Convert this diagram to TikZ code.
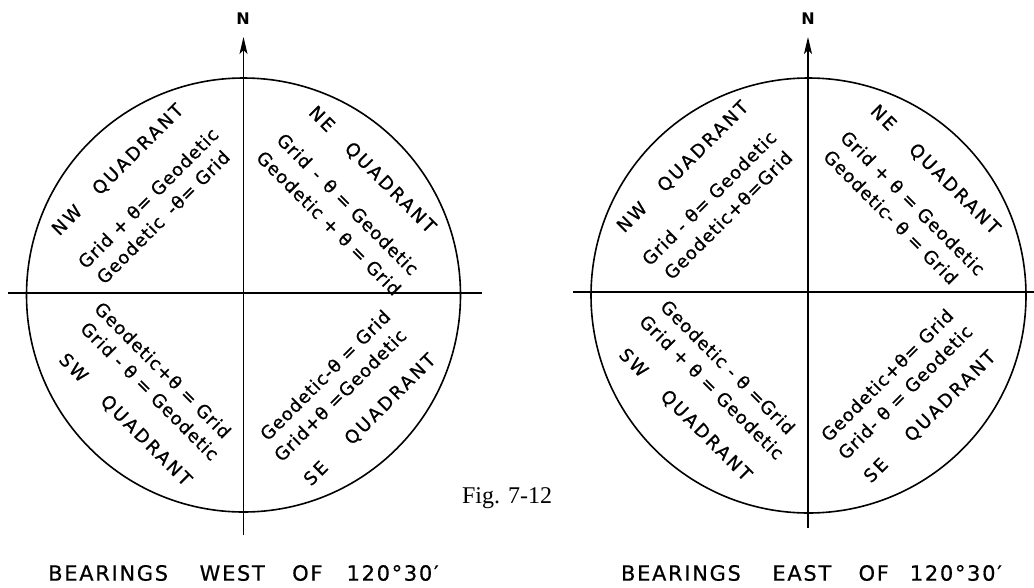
\documentclass[tikz,border=0pt]{standalone}
\usepackage{fontspec}
\setmainfont{Liberation Serif}
\newfontfamily\letfont[LetterSpace=5,FakeBold=0.8]{DejaVu Sans}
\newfontfamily\capfont[LetterSpace=14,FakeBold=0.8]{DejaVu Sans}
\newfontfamily\bottomfont[LetterSpace=8,FakeBold=0.6]{DejaVu Sans}
\newfontfamily\plainsans{DejaVu Sans}
\usetikzlibrary{arrows.meta}
\tikzset{
  qtext/.style={font=\letfont\fontsize{18}{18}\selectfont, inner sep=0pt},
  qtitle/.style={font=\capfont\fontsize{18}{18}\selectfont, inner sep=0pt},
  btext/.style={font=\bottomfont\fontsize{21}{21}\selectfont, inner sep=0pt},
  nlabel/.style={font=\plainsans\bfseries\fontsize{16}{16}\selectfont, inner sep=0pt},
  axisx/.style={line width=2.2pt},
  ring/.style={line width=1.6pt},
  north/.style={line width=1.3pt, -{Stealth[length=17pt,width=8pt,inset=4pt]}}
}
\begin{document}
\begin{tikzpicture}[x=1pt,y=-1pt]
\useasboundingbox (0,0) rectangle (1034,587);

% ---------- left figure ----------
\coordinate (c1) at (243.5,295);
\coordinate (h1l) at (8,293);
\coordinate (h1r) at (482,293);
\coordinate (v1b) at (243.5,535);
\coordinate (v1t) at (243.5,37);
\draw[ring] (c1) circle[radius=217];
\draw[axisx] (h1l) -- (h1r);
\draw[north] (v1b) -- (v1t);
\node[nlabel] (n1) at (243,19) {N};

\node[qtitle, rotate=45]  (l-nw-t) at (118,170) {NW\hspace{1.3em}QUADRANT};
\node[qtext,  rotate=45]  (l-nw-1) at (148,198) {Grid + θ= Geodetic};
\node[qtext,  rotate=45]  (l-nw-2) at (163,217) {Geodetic\hspace{0.6em}-θ= Grid};

\node[qtitle, rotate=-45] (l-ne-t) at (372,170) {NE\hspace{1.3em}QUADRANT};
\node[qtext,  rotate=-45] (l-ne-1) at (348,204) {Grid\hspace{0.5em}-\hspace{0.5em}θ = Geodetic};
\node[qtext,  rotate=-45] (l-ne-2) at (329,223) {Geodetic + θ = Grid};

\node[qtext,  rotate=-45] (l-sw-1) at (163,370) {Geodetic+θ = Grid};
\node[qtext,  rotate=-45] (l-sw-2) at (150,391) {Grid - θ = Geodetic};
\node[qtitle, rotate=-45] (l-sw-t) at (125,420) {SW\hspace{1.5em}QUADRANT};

\node[qtext,  rotate=45]  (l-se-1) at (325,375) {Geodetic-θ = Grid};
\node[qtext,  rotate=45]  (l-se-2) at (340,395) {Grid+θ =Geodetic};
\node[qtitle, rotate=45]  (l-se-t) at (370,420) {SE\hspace{1.8em}QUADRANT};

\node[btext] (l-cap) at (243.5,573) {BEARINGS\hspace{1.5em}WEST\hspace{1.3em}OF\hspace{1.15em}120°30′};

\node[font=\fontsize{24}{24}\selectfont, inner sep=0pt] (fig) at (507,498) {Fig. 7-12};

% ---------- right figure ----------
\coordinate (c2) at (808.5,295.5);
\coordinate (h2l) at (573,292);
\coordinate (h2r) at (1034,292);
\coordinate (v2b) at (808,528);
\coordinate (v2t) at (808,37);
\draw[ring] (c2) circle[radius=217.5];
\draw[axisx] (h2l) -- (h2r);
\draw[north] (v2b) -- (v2t);
\node[nlabel] (n2) at (808,19) {N};

\node[qtitle, rotate=45]  (r-nw-t) at (683,167) {NW\hspace{1.3em}QUADRANT};
\node[qtext,  rotate=45]  (r-nw-1) at (709,198) {Grid - θ= Geodetic};
\node[qtext,  rotate=45]  (r-nw-2) at (728,215) {Geodetic+θ=Grid};

\node[qtitle, rotate=-45] (r-ne-t) at (935,170) {NE\hspace{1.5em}QUADRANT};
\node[qtext,  rotate=-45] (r-ne-1) at (913,203) {Grid + θ = Geodetic};
\node[qtext,  rotate=-45] (r-ne-2) at (891,217) {Geodetic- θ = Grid};

\node[qtext,  rotate=-45] (r-sw-1) at (728,367) {Geodetic - θ =Grid};
\node[qtext,  rotate=-45] (r-sw-2) at (712,387) {Grid + θ = Geodetic};
\node[qtitle, rotate=-45] (r-sw-t) at (685,415) {SW\hspace{1.5em}QUADRANT};

\node[qtext,  rotate=45]  (r-se-1) at (887,375) {Geodetic+θ= Grid};
\node[qtext,  rotate=45]  (r-se-2) at (905,392) {Grid- θ = Geodetic};
\node[qtitle, rotate=45]  (r-se-t) at (930,417) {SE\hspace{1.8em}QUADRANT};

\node[btext] (r-cap) at (811.5,573) {BEARINGS\hspace{1.5em}EAST\hspace{1.3em}OF\hspace{1em}120°30′};
\end{tikzpicture}
\end{document}
